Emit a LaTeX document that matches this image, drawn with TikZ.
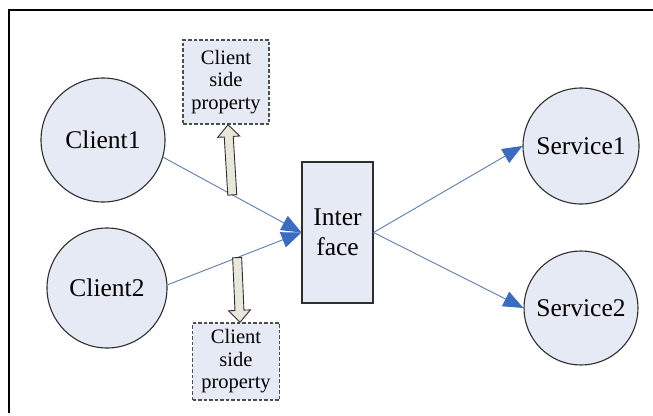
\documentclass[tikz,border=0pt]{standalone}
\usepackage{fontspec}
\setmainfont{Liberation Serif}
\usetikzlibrary{arrows.meta,calc}

\definecolor{nodefill}{HTML}{E6EAF4}
\definecolor{nodeedge}{HTML}{2E2E2E}
\definecolor{linkblue}{HTML}{5A7DB0}
\definecolor{headblue}{HTML}{3A6CC2}
\definecolor{fatfill}{HTML}{E9E7DA}

\tikzset{
  actor/.style={circle, draw=nodeedge, line width=1.1pt, fill=nodefill,
    font=\fontsize{25.5}{30}\selectfont, inner sep=0pt},
  ifacebox/.style={rectangle, draw=nodeedge, line width=1.1pt, fill=nodefill,
    minimum width=71pt, minimum height=141pt, align=center,
    font=\fontsize{25.5}{30}\selectfont},
  propbox/.style={rectangle, draw=nodeedge!85, line width=1.4pt,
    dash pattern=on 3.5pt off 2pt, fill=nodefill, align=center,
    font=\fontsize{20.5}{22.5}\selectfont, inner sep=0pt},
  link/.style={draw=linkblue, line width=0.9pt,
    -{Triangle[length=20pt,width=16pt,fill=headblue,color=headblue]}},
  fatarrow/.style={draw=nodeedge, line width=0.9pt, fill=fatfill, line join=miter},
  frameline/.style={draw=black, line width=1.4pt}
}

% hollow block arrow from #1 to #2
\newcommand{\blockarrow}[2]{%
  \coordinate (neck) at ($(#2)!12pt!(#1)$);
  \draw[fatarrow]
    ($(#1)!4.5pt!90:(#2)$) -- ($(neck)!4.5pt!90:(#2)$) -- ($(neck)!11pt!90:(#2)$)
    -- (#2) -- ($(neck)!11pt!-90:(#2)$) -- ($(neck)!4.5pt!-90:(#2)$)
    -- ($(#1)!4.5pt!-90:(#2)$) -- cycle;
}

\begin{document}
\begin{tikzpicture}[x=1pt,y=-1pt]
  \useasboundingbox (0,0) rectangle (653,415);

  % outer frame (top and left edges)
  \draw[frameline] (9,413) -- (9,10) -- (653,10);

  % nodes
  \node[actor, minimum size=124pt] (c1) at (103,140) {Client1};
  \node[actor, minimum size=120pt] (c2) at (107,288) {Client2};
  \node[ifacebox] (iface) at (337.5,232.5) {Inter\\face};
  \node[actor, minimum size=116pt] (s1) at (581,146) {Service1};
  \node[actor, minimum size=114pt] (s2) at (581,308) {Service2};

  \node[propbox, minimum width=86pt, minimum height=84pt] (ptop) at (226,82)
    {Client\\side\\property};
  \node[propbox, minimum width=87pt, minimum height=77pt] (pbot) at (236,361.5)
    {Client\\side\\property};

  % connectors
  \draw[link] (c1.-16) -- (iface.west);
  \draw[link] (c2.3) -- (iface.west);
  \draw[link] (iface.east) -- (s1.west);
  \draw[link] (iface.east) -- (s2.west);

  % property arrows
  \coordinate (ubase) at ($(c1.-16)!0.5!(iface.west)$);
  \coordinate (utip) at ($(ptop.south)+(2,0)$);
  \blockarrow{ubase}{utip}
  \coordinate (lbase) at ($(c2.3)!0.52!(iface.west)$);
  \coordinate (ltip) at ($(pbot.north)+(4,0)$);
  \blockarrow{lbase}{ltip}
\end{tikzpicture}
\end{document}
